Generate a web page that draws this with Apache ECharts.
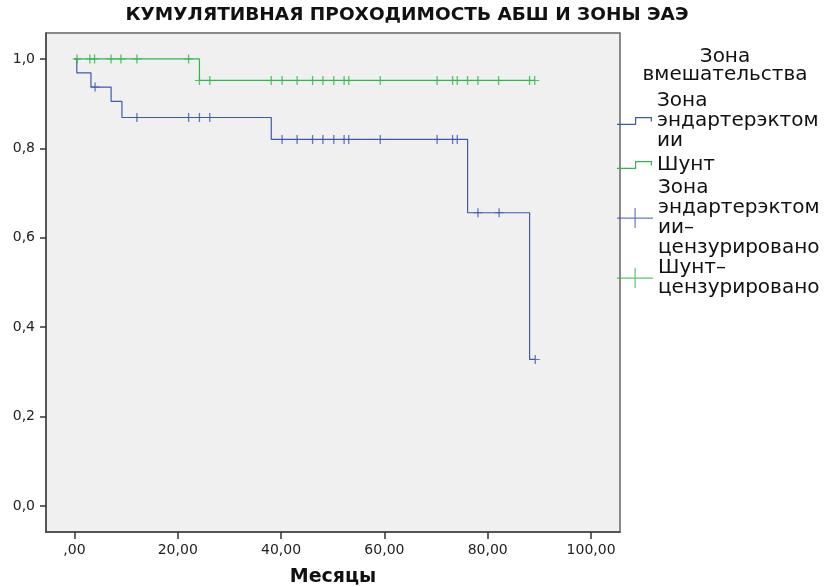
<!DOCTYPE html>
<html>
<head>
<meta charset="utf-8">
<script src="https://cdn.jsdelivr.net/npm/echarts@6/dist/echarts.min.js"></script>
<style>
  html, body { margin: 0; padding: 0; background: #fff; }
  #chart { width: 835px; height: 587px; }
</style>
</head>
<body>
<div id="chart"></div>
<script>
// Каплан-Майер: время событий и доля проходимых (по рисунку)
var zoneEventTimes = [0, 0.46, 3.2, 7.1, 9.2, 38.1, 76.1, 88.1];
var zoneSurvival   = [1.0, 0.969, 0.937, 0.905, 0.869, 0.820, 0.656, 0.328];
var zoneLastTime   = 89.2;
var zoneCensored   = [4.0, 12.1, 22.1, 24.2, 26.2, 40.2, 43.1, 46.1, 48.1, 50.2, 52.2, 53.1,
                      59.2, 70.2, 73.2, 74.1, 78.1, 82.2, 89.2];

var shuntEventTimes = [0, 24.2];
var shuntSurvival   = [1.0, 0.952];
var shuntLastTime   = 89.1;
var shuntCensored   = [0.5, 3.0, 3.9, 7.1, 9.0, 12.1, 22.1, 24.2, 26.2, 38.1, 40.2, 43.1, 46.1,
                       48.1, 50.2, 52.2, 53.1, 59.2, 70.2, 73.2, 74.1, 76.1, 78.1, 82.1, 88.1, 89.1];

var xTickValues = [0, 20, 40, 60, 80, 100];
var xTickLabels = [',00', '20,00', '40,00', '60,00', '80,00', '100,00'];
var yTickValues = [0, 0.2, 0.4, 0.6, 0.8, 1.0];
var yTickLabels = ['0,0', '0,2', '0,4', '0,6', '0,8', '1,0'];

var seriesNames = ['Зона\nэндартерэктом\nии', 'Шунт', 'Зона\nэндартерэктом\nии–\nцензурировано', 'Шунт–\nцензурировано'];

var BLUE = '#3e58ac';
var GREEN = '#2eb848';

function stepData(times, surv, last) {
  var d = [];
  for (var i = 0; i < times.length; i++) d.push([times[i], surv[i]]);
  d.push([last, surv[surv.length - 1]]);
  return d;
}
function levelAt(times, surv, t) {
  var s = surv[0];
  for (var i = 0; i < times.length; i++) if (times[i] <= t) s = surv[i];
  return s;
}
function censorData(times, surv, cens) {
  return cens.map(function (t) { return [t, levelAt(times, surv, t)]; });
}

var stepIcon = 'path://M0,7h19v1.2h-19z M18,0h1.2v8h-1.2z M18,0h17v1.2h-17z M33.8,0h1.2v4.5h-1.2z';
var crossIcon = 'path://M0,9.5h36v1.2h-36z M17.5,0h1.2v20h-1.2z';
var censorMark = 'path://M0,4h9v1h-9z M3.85,0h1.3v9h-1.3z';

var chart = echarts.init(document.getElementById('chart'));

var fontLegend = 'DejaVu Sans';
var noBorder = { borderWidth: 0, borderColor: 'transparent' };

var option = {
  backgroundColor: '#fff',
  animation: false,
  title: [
    {
      text: 'КУМУЛЯТИВНАЯ ПРОХОДИМОСТЬ АБШ И ЗОНЫ ЭАЭ',
      left: 407, top: 6, textAlign: 'center', padding: 0,
      textStyle: { fontFamily: 'DejaVu Sans', fontWeight: 'bold', fontSize: 18.5, color: '#111' }
    },
    {
      text: 'Зона\nвмешательства',
      left: 725, top: 48, textAlign: 'center', padding: 0,
      textStyle: { fontFamily: fontLegend, fontWeight: 'normal', fontSize: 20, lineHeight: 18, color: '#111' }
    }
  ],
  grid: {
    left: 46, right: 215, top: 33, bottom: 55, outerBoundsMode: 'none',
    show: true, backgroundColor: '#f0f0f0', borderColor: '#666', borderWidth: 1.5
  },
  legend: [
    {
      orient: 'vertical', left: 617, top: 91, itemGap: 4, padding: 0,
      itemWidth: 35, itemHeight: 8, symbolKeepAspect: false, itemStyle: noBorder,
      textStyle: { fontFamily: fontLegend, fontSize: 20, lineHeight: 20, color: '#111' },
      data: [
        { name: seriesNames[0], icon: stepIcon, itemStyle: { color: BLUE, borderWidth: 0, borderColor: 'transparent' } },
        { name: seriesNames[1], icon: stepIcon, itemStyle: { color: GREEN, borderWidth: 0, borderColor: 'transparent' } }
      ],
      selectedMode: false
    },
    {
      orient: 'vertical', left: 617, top: 178, itemGap: 0, padding: 0,
      itemWidth: 36, itemHeight: 20, symbolKeepAspect: false, itemStyle: noBorder,
      textStyle: { fontFamily: fontLegend, fontSize: 20, lineHeight: 20, color: '#111' },
      data: [
        { name: seriesNames[2], icon: crossIcon, itemStyle: { color: BLUE, borderWidth: 0, borderColor: 'transparent' } },
        { name: seriesNames[3], icon: crossIcon, itemStyle: { color: GREEN, borderWidth: 0, borderColor: 'transparent' } }
      ],
      selectedMode: false
    }
  ],
  xAxis: {
    type: 'value', min: -5.5, max: 105.6,
    name: 'Месяцы', nameLocation: 'middle', nameGap: 36,
    nameTextStyle: { fontFamily: 'DejaVu Sans', fontWeight: 'bold', fontSize: 19, color: '#111' },
    axisLine: { show: true, onZero: false, lineStyle: { color: '#444', width: 1.5 } },
    axisTick: { show: true, length: 7, customValues: xTickValues, lineStyle: { color: '#333', width: 1.5 } },
    axisLabel: {
      customValues: xTickValues, margin: 11,
      fontFamily: 'DejaVu Sans', fontSize: 14, color: '#222',
      formatter: function (v) { return xTickLabels[xTickValues.indexOf(v)]; }
    },
    splitLine: { show: false }
  },
  yAxis: {
    type: 'value', min: -0.058, max: 1.058,
    axisLine: { show: true, onZero: false, lineStyle: { color: '#444', width: 1.5 } },
    axisTick: { show: true, length: 6, customValues: yTickValues, lineStyle: { color: '#333', width: 1.5 } },
    axisLabel: {
      customValues: yTickValues, margin: 11,
      fontFamily: 'DejaVu Sans', fontSize: 14, color: '#222',
      formatter: function (v) {
        for (var i = 0; i < yTickValues.length; i++) if (Math.abs(yTickValues[i] - v) < 1e-6) return yTickLabels[i];
        return '';
      }
    },
    splitLine: { show: false }
  },
  series: [
    {
      name: seriesNames[0], type: 'line', step: 'end', showSymbol: false,
      data: stepData(zoneEventTimes, zoneSurvival, zoneLastTime),
      lineStyle: { color: BLUE, width: 1.2 }, itemStyle: { color: BLUE }, z: 3
    },
    {
      name: seriesNames[1], type: 'line', step: 'end', showSymbol: false,
      data: stepData(shuntEventTimes, shuntSurvival, shuntLastTime),
      lineStyle: { color: GREEN, width: 1.2 }, itemStyle: { color: GREEN }, z: 3
    },
    {
      name: seriesNames[2], type: 'scatter', symbol: censorMark, symbolSize: [9, 9],
      data: censorData(zoneEventTimes, zoneSurvival, zoneCensored),
      itemStyle: { color: BLUE }, z: 4
    },
    {
      name: seriesNames[3], type: 'scatter', symbol: censorMark, symbolSize: [9, 9],
      data: censorData(shuntEventTimes, shuntSurvival, shuntCensored),
      itemStyle: { color: GREEN }, z: 4
    }
  ]
};

chart.setOption(option);
</script>
</body>
</html>
